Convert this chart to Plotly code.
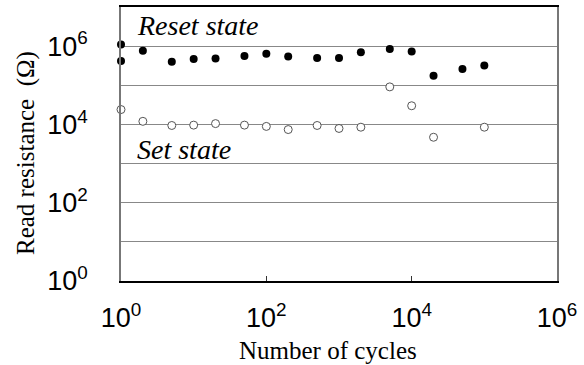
import plotly.graph_objects as go

# Data
reset_cycles = [1, 1, 2, 5, 10, 20, 50, 100, 200, 500, 1000, 2000, 5000, 1e4, 2e4, 5e4, 1e5]
reset_res = [1.1e6, 4.2e5, 7.6e5, 4.0e5, 4.7e5, 4.8e5, 5.6e5, 6.4e5, 5.4e5, 5.0e5, 5.0e5,
             7.0e5, 8.5e5, 7.3e5, 1.75e5, 2.6e5, 3.2e5]
set_cycles = [1, 2, 5, 10, 20, 50, 100, 200, 500, 1000, 2000, 5000, 1e4, 2e4, 1e5]
set_res = [2.4e4, 1.2e4, 9.4e3, 9.6e3, 1.05e4, 9.6e3, 8.9e3, 7.4e3, 9.4e3, 7.9e3, 8.5e3,
           9.1e4, 3.0e4, 4.7e3, 8.5e3]
x_tickvals = [1, 1e2, 1e4, 1e6]
x_ticktext = ["10<sup>0</sup>", "10<sup>2</sup>", "10<sup>4</sup>", "10<sup>6</sup>"]
y_tickvals = [1, 1e2, 1e4, 1e6]
y_ticktext = ["10<sup>0</sup>", "10<sup>2</sup>", "10<sup>4</sup>", "10<sup>6</sup>"]
x_title = "Number of cycles"
y_title = "Read resistance  (Ω)"

SERIF = "'Liberation Serif', 'Times New Roman', Times, serif"
SANS = "'Liberation Sans', Arial, Helvetica, sans-serif"

fig = go.Figure()
fig.add_trace(go.Scatter(
    x=reset_cycles, y=reset_res, mode="markers", name="Reset state",
    marker=dict(symbol="circle", size=8, color="black", line=dict(width=0)),
    cliponaxis=False, showlegend=False))
fig.add_trace(go.Scatter(
    x=set_cycles, y=set_res, mode="markers", name="Set state",
    marker=dict(symbol="circle", size=8, color="white", line=dict(width=1, color="#555")),
    cliponaxis=False, showlegend=False))

fig.add_annotation(x=0.19, y=6.52, xref="x", yref="y", text="<i>Reset state</i>",
                   showarrow=False, xanchor="left", yanchor="middle",
                   font=dict(family=SERIF, size=28, color="black"))
fig.add_annotation(x=0.19, y=3.35, xref="x", yref="y", text="<i>Set state</i>",
                   showarrow=False, xanchor="left", yanchor="middle",
                   font=dict(family=SERIF, size=28, color="black"))

# axis titles
fig.add_annotation(x=0.475, y=-0.252, xref="paper", yref="paper", text=x_title,
                   showarrow=False, xanchor="center", yanchor="middle",
                   font=dict(family=SERIF, size=25, color="black"))
fig.add_annotation(x=-0.218, y=0.467, xref="paper", yref="paper", text=y_title,
                   showarrow=False, xanchor="center", yanchor="middle", textangle=-90,
                   font=dict(family=SERIF, size=25, color="black"))

fig.update_layout(
    width=584, height=365,
    margin=dict(l=121, r=27, t=7, b=84),
    paper_bgcolor="white", plot_bgcolor="white",
    xaxis=dict(
        type="log", range=[0, 6], tickmode="array",
        tickvals=x_tickvals, ticktext=x_ticktext,
        showgrid=False, zeroline=False,
        showline=True, linecolor="black", linewidth=1.5, mirror=True,
        ticks="inside", ticklen=5, tickcolor="#333",
        ticklabelstandoff=12,
        tickfont=dict(family=SANS, size=27, color="black"),
        automargin=False,
    ),
    yaxis=dict(
        type="log", range=[0, 7], tickmode="array",
        tickvals=y_tickvals, ticktext=y_ticktext,
        showgrid=True, gridcolor="#888", gridwidth=1,
        minor=dict(tickmode="array", tickvals=[10, 1e3, 1e5], showgrid=True,
                   gridcolor="#888", gridwidth=1),
        zeroline=False,
        showline=True, linecolor="#777", linewidth=1.5, mirror=True,
        ticks="",
        ticklabelstandoff=26,
        tickfont=dict(family=SANS, size=27, color="black"),
        automargin=False,
    ),
)

fig.write_html("out.html")
